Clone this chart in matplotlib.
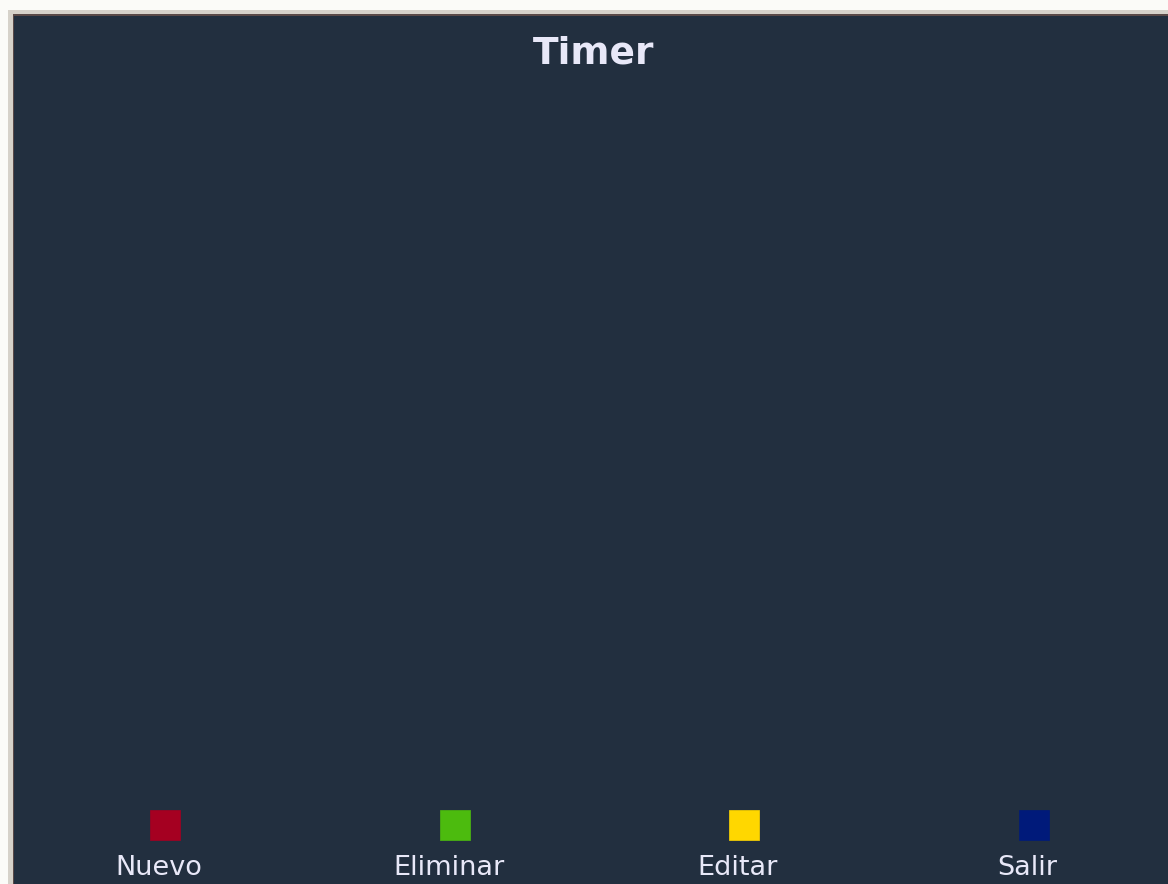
import matplotlib.pyplot as plt
from matplotlib.patches import Rectangle

# 데이터 (차트 내용은 비어 있고 범례만 있음)
title = "Timer"
labels = ["Nuevo", "Eliminar", "Editar", "Salir"]
colors = ["#a50021", "#4cbb0e", "#ffd700", "#001a7a"]

W, H = 1168, 884
bg = "#222f3f"
text_color = "#e8e8f8"

fig = plt.figure(figsize=(W / 100, H / 100), dpi=100)
fig.patch.set_facecolor("#fbfbf8")

# 창 테두리
fig.patches.append(Rectangle((8 / W, 0), 1, (H - 10) / H, transform=fig.transFigure,
                             facecolor="#d6d2ca", edgecolor="none", zorder=-10))
fig.patches.append(Rectangle((13 / W, 0), 1, (H - 14) / H, transform=fig.transFigure,
                             facecolor="#5a4a48", edgecolor="none", zorder=-9))

ax = fig.add_axes([14 / W, 0, (W - 14) / W, (H - 16) / H])
ax.set_zorder(1)
ax.set_facecolor(bg)
ax.set_xticks([])
ax.set_yticks([])
for s in ax.spines.values():
    s.set_visible(False)
ax.set_xlim(14, W)
ax.set_ylim(H, 16)

# 제목
ax.text(594, 53, title, ha="center", va="center", fontsize=27, fontweight="bold",
        color=text_color)

# 범례 (사각형 위, 글자 아래)
x0, step = 165, 289.5
for i, (lab, c) in enumerate(zip(labels, colors)):
    x = x0 + i * step
    ax.scatter([x], [824.5], marker="s", s=440, color=c, edgecolors=c, linewidths=0.5)
    ax.text(x - 6, 868, lab, ha="center", va="center", fontsize=19.5, color=text_color)

fig.savefig("out.png", dpi=100, facecolor=fig.get_facecolor())
